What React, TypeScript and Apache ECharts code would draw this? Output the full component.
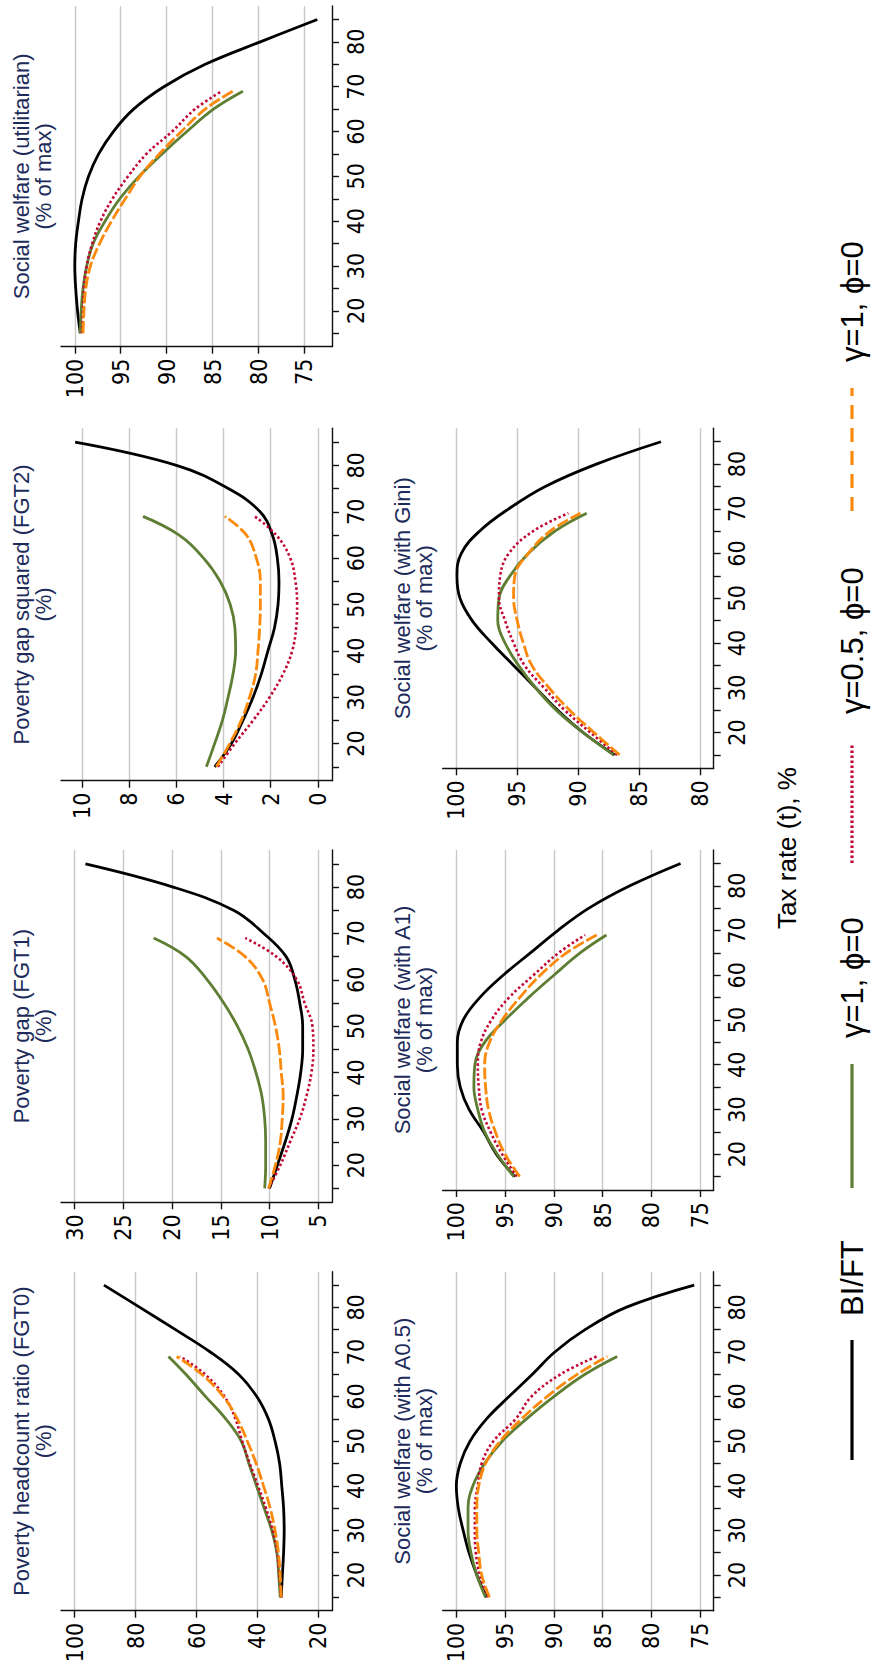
import React, { useEffect, useRef } from "react";
import * as echarts from "echarts";

// ---------- data ----------
const taxLong = [15, 20, 25, 30, 35, 40, 45, 50, 55, 60, 65, 70, 75, 80, 85];
const taxShort = [15, 20, 25, 30, 35, 40, 45, 50, 55, 60, 65, 69];
const taxTicks = [15, 20, 25, 30, 35, 40, 45, 50, 55, 60, 65, 70, 75, 80, 85];
const taxLabels = [20, 30, 40, 50, 60, 70, 80];

const seriesNames = ["BI/FT", "\u03b3=1, \u03d5=0", "\u03b3=0.5, \u03d5=0", "\u03b3=1, \u03d5=0"];

// Poverty headcount ratio (FGT0)
const fgt0Black = [32.2, 31.8, 31.4, 31.2, 31.4, 32.0, 32.7, 34.2, 36.4, 40.2, 46.2, 55.5, 66.9, 78.6, 90.4];
const fgt0Green = [32.5, 33.0, 33.6, 35.3, 37.8, 40.3, 42.8, 45.3, 50.4, 57.0, 63.5, 69.2];
const fgt0Red = [32.2, 32.8, 33.5, 35.0, 37.2, 39.8, 42.5, 45.0, 47.2, 50.8, 57.2, 65.4];
const fgt0Orange = [32.2, 32.5, 33.1, 34.2, 35.8, 38.0, 40.4, 43.3, 46.6, 51.2, 58.3, 66.5];

// Poverty gap (FGT1)
const fgt1Black = [10.0, 9.2, 8.4, 7.7, 7.2, 6.8, 6.6, 6.6, 6.9, 7.4, 8.3, 10.6, 13.7, 19.9, 28.9];
const fgt1Green = [10.5, 10.4, 10.4, 10.5, 10.8, 11.4, 12.2, 13.3, 14.7, 16.4, 18.6, 21.9];
const fgt1Red = [10.1, 8.9, 7.9, 6.9, 6.2, 5.7, 5.5, 5.6, 6.4, 7.2, 9.3, 12.5];
const fgt1Orange = [10.1, 9.4, 8.9, 8.7, 8.6, 8.8, 9.0, 9.4, 10.0, 10.7, 12.5, 15.4];

// Poverty gap squared (FGT2)
const fgt2Black = [4.38, 3.67, 3.18, 2.75, 2.4, 2.12, 1.84, 1.69, 1.65, 1.72, 1.93, 2.45, 3.8, 6.0, 10.3];
const fgt2Green = [4.73, 4.38, 4.05, 3.81, 3.6, 3.49, 3.52, 3.72, 4.15, 4.85, 5.9, 7.42];
const fgt2Red = [4.24, 3.53, 2.75, 2.05, 1.48, 1.09, 0.92, 0.88, 0.95, 1.17, 1.77, 2.68];
const fgt2Orange = [4.31, 3.74, 3.25, 2.9, 2.64, 2.54, 2.47, 2.44, 2.44, 2.61, 3.04, 3.95];

// Social welfare (utilitarian)
const utilBlack = [99.4, 99.7, 99.9, 100.0, 99.9, 99.6, 99.2, 98.5, 97.4, 95.8, 93.6, 90.3, 85.8, 79.8, 73.6];
const utilGreen = [99.4, 99.3, 99.1, 98.7, 98.0, 96.7, 95.1, 93.0, 90.5, 87.8, 84.9, 81.7];
const utilRed = [99.2, 99.1, 99.0, 98.7, 98.1, 97.2, 95.9, 94.2, 92.2, 89.4, 86.9, 84.0];
const utilOrange = [99.1, 99.0, 98.8, 98.3, 97.3, 96.0, 94.5, 92.9, 90.8, 88.4, 85.8, 82.8];

// Social welfare (with A0.5)
const a05Black = [96.9, 97.9, 98.7, 99.3, 99.8, 100.0, 99.6, 98.6, 96.9, 94.6, 92.2, 89.9, 86.8, 82.6, 75.6];
const a05Green = [97.0, 97.9, 98.5, 98.8, 98.8, 98.3, 97.1, 95.3, 92.8, 90.0, 86.8, 83.5];
const a05Red = [96.7, 97.6, 98.0, 98.1, 98.1, 97.8, 97.4, 96.2, 93.9, 92.3, 89.3, 85.6];
const a05Orange = [96.6, 97.4, 97.7, 97.9, 97.9, 97.7, 97.0, 95.5, 93.3, 90.7, 87.6, 84.5];

// Social welfare (with A1)
const a1Black = [94.0, 95.9, 97.2, 98.7, 99.6, 99.9, 99.9, 99.3, 97.6, 95.2, 92.4, 89.6, 86.4, 82.2, 77.0];
const a1Green = [94.1, 95.8, 97.1, 97.8, 98.2, 98.1, 97.1, 95.0, 92.6, 90.0, 87.3, 84.6];
const a1Red = [93.8, 95.3, 96.5, 97.4, 97.7, 97.8, 97.5, 96.4, 94.6, 92.1, 89.5, 86.8];
const a1Orange = [93.5, 95.0, 96.0, 96.7, 97.0, 97.1, 96.6, 95.3, 93.5, 91.4, 88.7, 85.6];

// Social welfare (with Gini)
const giniBlack = [87.0, 89.6, 91.7, 93.5, 95.3, 97.1, 98.7, 99.7, 99.95, 99.6, 98.1, 95.7, 92.7, 88.5, 83.2];
const giniGreen = [87.1, 89.6, 91.8, 93.5, 94.9, 96.0, 96.6, 96.5, 95.6, 94.1, 91.9, 89.3];
const giniRed = [86.8, 89.0, 91.1, 92.8, 94.4, 95.3, 96.0, 96.5, 96.4, 95.7, 93.7, 90.8];
const giniOrange = [86.6, 88.7, 90.7, 92.4, 93.8, 94.5, 95.0, 95.3, 95.2, 94.1, 92.3, 89.8];

// value-axis tick labels
const ticksFgt0 = [20, 40, 60, 80, 100];
const ticksFgt1 = [5, 10, 15, 20, 25, 30];
const ticksFgt2 = [0, 2, 4, 6, 8, 10];
const ticksWelfare = [75, 80, 85, 90, 95, 100];
const ticksGini = [80, 85, 90, 95, 100];

// ---------- layout ----------
const COL1 = 61;
const COL2 = 442.7;
const PW = 271;

const panels = [
  { t1: "Poverty headcount ratio (FGT0)", t2: "(%)", left: COL1, top: 1271.7, h: 339, min: 15.5, max: 104.5, ticks: ticksFgt0, d: [fgt0Black, fgt0Green, fgt0Red, fgt0Orange] },
  { t1: "Poverty gap (FGT1)", t2: "(%)", left: COL1, top: 850, h: 352.3, min: 3.59, max: 31.41, ticks: ticksFgt1, d: [fgt1Black, fgt1Green, fgt1Red, fgt1Orange] },
  { t1: "Poverty gap squared (FGT2)", t2: "(%)", left: COL1, top: 428.3, h: 352.4, min: -0.6, max: 10.9, ticks: ticksFgt2, d: [fgt2Black, fgt2Green, fgt2Red, fgt2Orange] },
  { t1: "Social welfare (utilitarian)", t2: "(% of max)", left: COL1, top: 6, h: 340.7, min: 72.0, max: 101.5, ticks: ticksWelfare, d: [utilBlack, utilGreen, utilRed, utilOrange] },
  { t1: "Social welfare (with A0.5)", t2: "(% of max)", left: COL2, top: 1271.7, h: 339, min: 73.6, max: 101.4, ticks: ticksWelfare, d: [a05Black, a05Green, a05Red, a05Orange] },
  { t1: "Social welfare (with A1)", t2: "(% of max)", left: COL2, top: 850, h: 340, min: 73.6, max: 101.4, ticks: ticksWelfare, d: [a1Black, a1Green, a1Red, a1Orange] },
  { t1: "Social welfare (with Gini)", t2: "(% of max)", left: COL2, top: 428.3, h: 340, min: 78.87, max: 101.12, ticks: ticksGini, d: [giniBlack, giniGreen, giniRed, giniOrange] },
];

const colors = ["#000000", "#5e7e33", "#c10534", "#fb8a0c"];
const lineTypes: any[] = ["solid", "solid", [2.5, 2.5], [12, 3]];
const lineWidths = [2.8, 2.8, 2.6, 2.8];

const FONT = "'Liberation Sans Narrow', 'Arial Narrow', 'DejaVu Sans Condensed', 'Liberation Sans', Arial, sans-serif";
const FONT_REG = "'Liberation Sans', Arial, Helvetica, sans-serif";
const TITLE_COLOR = "#1c2b5a";

export default function App() {
  const ref = useRef<HTMLDivElement>(null);
  useEffect(() => {
    if (!ref.current) return;
    const chart = echarts.init(ref.current, undefined, { renderer: "svg" });

    const grid = panels.map((p) => ({ left: p.left, top: p.top, width: PW, height: p.h }));
    const axisLineStyle = { color: "#111", width: 1.4 };
    const xAxis = panels.map((p, i) => ({
      type: "value",
      gridIndex: i,
      position: "bottom",
      inverse: true,
      min: p.min,
      max: p.max,
      axisLine: { show: true, onZero: false, lineStyle: axisLineStyle },
      axisTick: { show: true, length: 7, customValues: p.ticks, lineStyle: axisLineStyle },
      axisLabel: { customValues: p.ticks, rotate: 90, margin: 12, fontSize: 23, fontFamily: FONT, color: "#000" },
      splitLine: { show: true, lineStyle: { color: "#c8c8c8", width: 1.4 } },
    }));
    const yAxis = panels.map((p, i) => ({
      type: "value",
      gridIndex: i,
      position: "right",
      min: 12,
      max: 88,
      axisLine: { show: true, onZero: false, lineStyle: axisLineStyle },
      axisTick: { show: true, length: 7, customValues: taxTicks, lineStyle: axisLineStyle },
      axisLabel: { customValues: taxLabels, rotate: 90, margin: 12, fontSize: 23, fontFamily: FONT, color: "#000" },
      splitLine: { show: false },
    }));

    const series: any[] = [];
    panels.forEach((p, i) => {
      p.d.forEach((vals, k) => {
        const taxes = k === 0 ? taxLong : taxShort;
        series.push({
          type: "line",
          name: seriesNames[k],
          xAxisIndex: i,
          yAxisIndex: i,
          data: vals.map((v, j) => [v, taxes[j]]),
          showSymbol: false,
          symbol: "none",
          smooth: 0.4,
          lineStyle: { color: colors[k], width: lineWidths[k], type: lineTypes[k], cap: "butt" },
          z: 3,
        });
      });
    });

    const graphic: any[] = [];
    panels.forEach((p) => {
      const cy = p.top + p.h / 2;
      const x1 = p.left === COL1 ? 21.5 : 402;
      graphic.push({
        type: "text", x: x1, y: cy, rotation: Math.PI / 2,
        style: { text: p.t1, fontSize: 22, fontFamily: FONT_REG, fill: TITLE_COLOR, align: "center", verticalAlign: "middle" },
      });
      graphic.push({
        type: "text", x: x1 + 22, y: cy, rotation: Math.PI / 2,
        style: { text: p.t2, fontSize: 22, fontFamily: FONT_REG, fill: TITLE_COLOR, align: "center", verticalAlign: "middle" },
      });
    });
    graphic.push({
      type: "text", x: 787, y: 848, rotation: Math.PI / 2,
      style: { text: "Tax rate (t), %", fontSize: 26, fontFamily: FONT_REG, fill: "#000", align: "center", verticalAlign: "middle" },
    });
    // legend (drawn rotated like the rest of the figure)
    const legendKeys = [
      { y0: 1460, y1: 1340, text: 1316 },
      { y0: 1188, y1: 1064, text: 1038 },
      { y0: 863, y1: 744, text: 714 },
      { y0: 511, y1: 388, text: 362 },
    ];
    legendKeys.forEach((lk, k) => {
      graphic.push({
        type: "line",
        shape: { x1: 852, y1: lk.y0, x2: 852, y2: lk.y1 },
        style: { stroke: colors[k], lineWidth: 3.2, lineDash: k === 2 ? [2.5, 2.5] : k === 3 ? [14, 9] : null },
      });
      graphic.push({
        type: "text", x: 852, y: lk.text, rotation: Math.PI / 2,
        style: { text: seriesNames[k], fontSize: 31, fontFamily: FONT_REG, fill: "#000", align: "left", verticalAlign: "middle" },
      });
    });

    chart.setOption({
      animation: false,
      backgroundColor: "#fff",
      grid,
      xAxis,
      yAxis,
      series,
      graphic,
    } as any);
    return () => chart.dispose();
  }, []);

  return (
    <div
      ref={ref}
      style={{ position: "absolute", left: 0, top: 0, width: 871, height: 1668, background: "#fff" }}
    />
  );
}
